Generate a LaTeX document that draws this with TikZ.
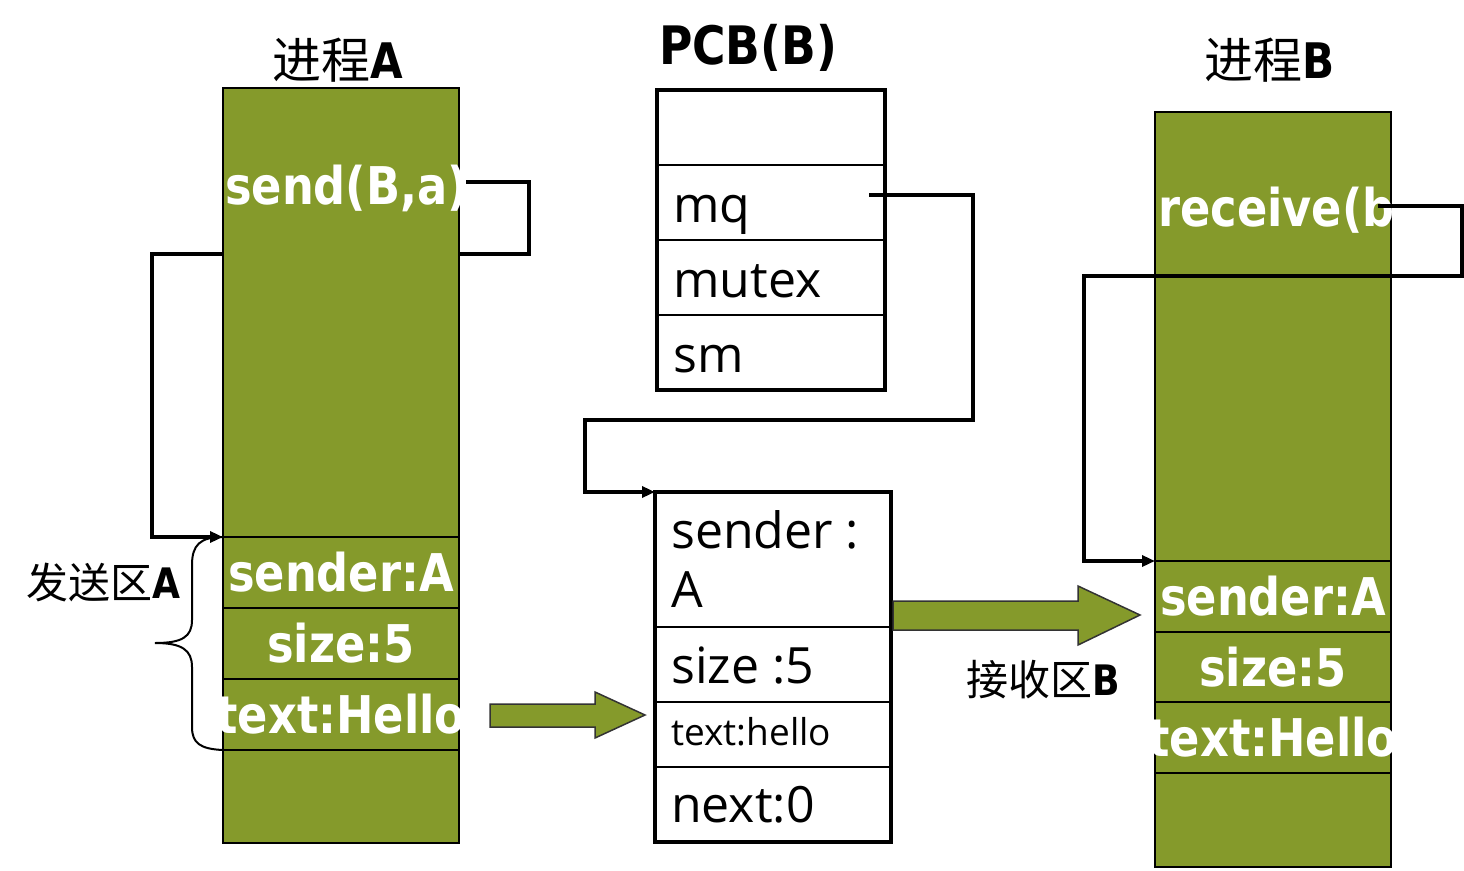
\documentclass[tikz,border=0pt]{standalone}
\usepackage{fontspec}
\usetikzlibrary{arrows.meta}
\setmainfont{Open Sans}
\newfontfamily\wb[FakeStretch=0.86]{DejaVu Sans Bold}
\newfontfamily\cjk{Noto Sans CJK SC}
\definecolor{og}{RGB}{133,154,43}
\begin{document}
\begin{tikzpicture}[x=1pt,y=-1pt,
  gcell/.style={draw=black, line width=1.5pt, fill=og, minimum width=236pt, anchor=north west, inner sep=0pt, outer sep=0pt},
  wcell/.style={draw=black, line width=1.5pt, fill=white, anchor=north west, inner sep=0pt, outer sep=0pt},
  wtext/.style={text=white, font=\wb\fontsize{52}{56}\selectfont, inner sep=0pt},
  btext/.style={text=black, font=\fontsize{50}{54}\selectfont, inner sep=0pt, anchor=base west},
  title/.style={font=\fontsize{49}{53}\selectfont, inner sep=0pt},
  conn/.style={line width=3.5pt, line join=miter},
  tip/.style={-{Triangle[length=13pt,width=11pt]}},
  fat/.style={draw=black!80, line width=1.5pt, fill=og, line join=miter}]
\useasboundingbox (0,0) rectangle (1464,870);

% ---------- Process A ----------
\node[gcell, minimum height=449pt] (aTop) at (223,88) {};
\node[gcell, minimum height=71pt] (aS) at (223,537) {};
\node[gcell, minimum height=71pt] (aZ) at (223,608) {};
\node[gcell, minimum height=71pt] (aT) at (223,679) {};
\node[gcell, minimum height=93pt] (aB) at (223,750) {};
\node[title] (tA) at (338,60) {{\cjk 进程}{\wb A}};
\node[wtext, anchor=west] (sendT) at (225,188) {send(B,a)};
\node[wtext] (aSt) at (aS.center) {sender:A};
\node[wtext] (aZt) at (aZ.center) {size:5};
\node[wtext] (aTt) at (aT.center) {text:Hello};

% ---------- PCB(B) ----------
\node[font=\wb\fontsize{53}{57}\selectfont, inner sep=0pt] (tP) at (748,48) {PCB(B)};
\node[wcell, minimum width=228pt, minimum height=75pt] (p1) at (657,90) {};
\node[wcell, minimum width=228pt, minimum height=75pt] (p2) at (657,165) {};
\node[wcell, minimum width=228pt, minimum height=75pt] (p3) at (657,240) {};
\node[wcell, minimum width=228pt, minimum height=75pt] (p4) at (657,315) {};
\draw[line width=3.5pt] (p1.north west) rectangle (p4.south east);
\node[btext] (mq) at (673,222) {mq};
\node[btext] (mutex) at (673,297) {mutex};
\node[btext] (sm) at (673,372) {sm};

% ---------- message ----------
\node[wcell, minimum width=236pt, minimum height=135pt] (m1) at (655,492) {};
\node[wcell, minimum width=236pt, minimum height=75pt] (m2) at (655,627) {};
\node[wcell, minimum width=236pt, minimum height=65pt] (m3) at (655,702) {};
\node[wcell, minimum width=236pt, minimum height=75pt] (m4) at (655,767) {};
\draw[line width=3.5pt] (m1.north west) rectangle (m4.south east);
\node[btext] (ms1) at (671,548) {sender :};
\node[btext] (ms2) at (671,607) {A};
\node[btext] (ms3) at (671,683) {size :5};
\node[btext, font=\fontsize{37}{40}\selectfont] (ms4) at (671,745) {text:hello};
\node[btext] (ms5) at (671,822) {next:0};

% ---------- Process B ----------
\node[gcell, minimum height=449pt] (bTop) at (1155,112) {};
\node[gcell, minimum height=71pt] (bS) at (1155,561) {};
\node[gcell, minimum height=70pt] (bZ) at (1155,632) {};
\node[gcell, minimum height=71pt] (bT) at (1155,702) {};
\node[gcell, minimum height=94pt] (bB) at (1155,773) {};
\node[title] (tB) at (1270,60) {{\cjk 进程}{\wb B}};
\node[wtext, anchor=west] (recvT) at (1158,210) {receive(b};
\node[wtext] (bSt) at (bS.center) {sender:A};
\node[wtext] (bZt) at (bZ.center) {size:5};
\node[wtext] (bTt) at (bT.center) {text:Hello};

% ---------- labels ----------
\node[font=\fontsize{42}{46}\selectfont, inner sep=0pt] (sendArea) at (103,583) {{\cjk 发送区}{\wb A}};
\node[font=\fontsize{42}{46}\selectfont, inner sep=0pt] (recvArea) at (1043,680) {{\cjk 接收区}{\wb B}};

% ---------- connectors ----------
\coordinate (s1) at (466,182);
\coordinate (s2) at (529,182);
\coordinate (s3) at (529,254);
\coordinate (s4) at (459,254);
\draw[conn] (s1) -- (s2) -- (s3) -- (s4);

\coordinate (l1) at (223,254);
\coordinate (l2) at (152,254);
\coordinate (l3) at (152,537);
\draw[conn, tip] (l1) -- (l2) -- (l3) -- (aS.north west);

\coordinate (q1) at (869,195);
\coordinate (q2) at (973,195);
\coordinate (q3) at (973,420);
\coordinate (q4) at (585,420);
\coordinate (q5) at (585,492);
\draw[conn, tip] (q1) -- (q2) -- (q3) -- (q4) -- (q5) -- (m1.north west);

\coordinate (r1) at (1378,206);
\coordinate (r2) at (1462,206);
\coordinate (r3) at (1462,276);
\coordinate (r4) at (1084,276);
\coordinate (r5) at (1084,561);
\draw[conn, tip] (r1) -- (r2) -- (r3) -- (r4) -- (r5) -- (bS.north west);

% brace
\draw[line width=2pt] (aS.north west) .. controls (200,537) and (192,545) .. (192,565)
  -- (192,620) .. controls (192,637) and (182,643) .. (155,643)
  .. controls (182,643) and (192,650) .. (192,667)
  -- (192,727) .. controls (192,743) and (200,749) .. (aB.north west);

% fat arrows
\draw[fat] (490,704) -- (595,704) -- (595,692) -- (645,715) -- (595,738) -- (595,727) -- (490,727) -- cycle;
\draw[fat] (893,601) -- (1078,601) -- (1078,586) -- (1140,615) -- (1078,645) -- (1078,630) -- (893,630) -- cycle;
\end{tikzpicture}
\end{document}
